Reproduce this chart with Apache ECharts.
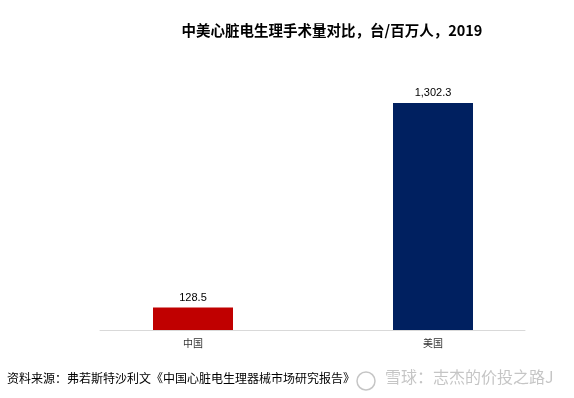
<!DOCTYPE html>
<html>
<head>
<meta charset="utf-8">
<script src="https://cdn.jsdelivr.net/npm/echarts@6/dist/echarts.min.js"></script>
<style>
  html, body { margin: 0; padding: 0; background: #fff; }
  #chart { width: 574px; height: 398px; }
</style>
</head>
<body>
<div id="chart"></div>
<script>
  const categories = ["中国", "美国"];
  const values = [128.5, 1302.3];
  const barColors = ["#C00000", "#002060"];

  const chart = echarts.init(document.getElementById("chart"));
  const option = {
    backgroundColor: "#fff",
    animation: false,
    title: {
      text: "中美心脏电生理手术量对比，台/百万人，2019",
      left: 327,
      top: 18,
      textAlign: "center",
      textStyle: {
        fontFamily: "Noto Sans CJK SC",
        fontWeight: "bold",
        fontSize: 14.5,
        color: "#000",
      },
    },
    grid: [
      { left: 73, right: 21, top: 51, bottom: 68 },
      { left: 100, right: 49, top: 51, bottom: 68 },
    ],
    xAxis: [
      {
        type: "category",
        gridIndex: 0,
        data: categories,
        axisLine: { show: false },
        axisTick: { show: false },
        axisLabel: {
          margin: 8,
          fontSize: 10,
          color: "#333",
          fontFamily: "Noto Sans CJK SC",
        },
      },
      {
        type: "category",
        gridIndex: 1,
        data: categories,
        axisLine: { show: true, lineStyle: { color: "#d9d9d9", width: 1 } },
        axisTick: { show: false },
        axisLabel: { show: false },
      },
    ],
    yAxis: [
      { type: "value", gridIndex: 0, min: 0, max: 1600, show: false },
      { type: "value", gridIndex: 1, min: 0, max: 1600, show: false },
    ],
    series: [
      {
        type: "bar",
        xAxisIndex: 0,
        yAxisIndex: 0,
        barWidth: 80,
        data: values.map((v, i) => ({ value: v, itemStyle: { color: barColors[i] } })),
        label: {
          show: true,
          position: "top",
          distance: 4,
          fontSize: 11,
          color: "#000",
          fontFamily: "Liberation Sans",
          formatter: (p) => p.value.toLocaleString("en-US", { minimumFractionDigits: 1 }),
        },
      },
    ],
    graphic: [
      {
        type: "text",
        left: 7,
        top: 372,
        style: {
          text: "资料来源：弗若斯特沙利文《中国心脏电生理器械市场研究报告》",
          fontSize: 12,
          fontFamily: "Noto Sans CJK SC",
          fill: "#000",
        },
      },
      {
        type: "circle",
        shape: { cx: 366, cy: 381, r: 9 },
        style: { fill: "none", stroke: "rgba(150,150,150,0.55)", lineWidth: 1.5 },
      },
      {
        type: "text",
        left: 385,
        top: 369,
        style: {
          text: "雪球：志杰的价投之路J",
          fontSize: 16,
          fontFamily: "Noto Sans CJK SC",
          fill: "rgba(150,150,150,0.55)",
        },
      },
    ],
  };
  chart.setOption(option);
</script>
</body>
</html>
